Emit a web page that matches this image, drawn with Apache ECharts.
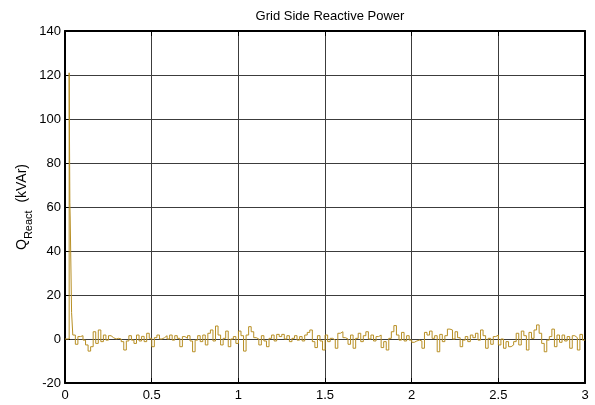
<!DOCTYPE html>
<html>
<head>
<meta charset="utf-8">
<script src="https://cdn.jsdelivr.net/npm/echarts@6/dist/echarts.min.js"></script>
<style>
  html, body { margin: 0; padding: 0; background: #fff; }
  #chart { width: 595px; height: 405px; }
</style>
</head>
<body>
<div id="chart"></div>
<script>
// Axis ticks
const xTicks = [0, 0.5, 1, 1.5, 2, 2.5, 3];
const yTicks = [-20, 0, 20, 40, 60, 80, 100, 120, 140];

// Start-up transient (time in s, reactive power in kVAr)
const startupTime  = [0, 0.024, 0.026, 0.028, 0.030, 0.038];
const startupValue = [0, 121, 90, 62, 55, 12];

// Steady-state samples, held between sample instants (kVAr)
const noiseStart = 0.045;
const noiseEnd = 3.0;
const steady0 = [1.8,-2.4,1.1,1.5,-0.5,-2.7,-5.5,-3.5,3.3,-2.0,4.1,-1.2,1.8,-0.5,1.5,0.6,0,0.3,0,-1.2,-5.0,-0.9,1.5,-0.5,-2.0,1.8,-0.9,1.2,-1.2,2.6,0.3,-3.5,0.6,1.8,0];
const steady1 = [0.6,1.5,0,1.8,-0.5,1.5,0.3,-3.5,1.1,0.3,1.5,-0.9,-5.8,-0.5,1.5,-1.2,1.8,-2.7,2.6,4.1,-0.9,5.9,1.8,-2.7,0.3,3.6,-3.5,0,1.1,-2.0,3.6,1.5,-5.5,1.8];
const steady2 = [5.6,3.3,0.6,0,-2.7,1.5,-0.9,-3.5,0.3,1.8,-0.9,2.1,1.1,2.1,0,1.5,-1.2,0.3,1.5,-0.5,1.1,-0.9,1.8,3.0,4.1,-1.2,-3.9,1.5,-0.9,-5.0,1.8,-1.2,0.3,-0.5];
const steady3 = [-4.2,2.6,3.3,0.6,0,-2.4,1.8,-4.2,0.3,2.6,-1.2,1.5,3.3,0,1.8,-0.9,1.1,1.8,-3.9,-1.2,-5.0,0.3,3.3,6.1,1.8,-0.5,3.0,-0.9,1.5,-0.5,-1.5,-0.9,-0.5];
const steady4 = [-0.9,-4.2,3.0,1.8,3.6,0.3,1.5,-5.8,2.1,-1.2,1.5,4.5,4.1,0,3.3,0.6,-3.5,-0.5,1.1,-1.2,1.8,0.6,2.6,-0.5,4.1,1.5,-4.2,0.3,-2.4,1.1,1.8,-2.7,0];
const steady5 = [-4.2,-1.2,-3.5,-2.7,-1.2,2.6,-2.7,3.6,1.5,-5.0,3.0,0.3,4.1,6.4,2.6,-2.0,-5.8,-0.5,1.1,4.5,-3.5,1.8,-1.5,1.8,-0.9,1.1,-4.2,1.5,0.6,-5.0,2.1,-0.5];

const steady = [].concat(steady0, steady1, steady2, steady3, steady4, steady5);

const points = [];
for (let i = 0; i < startupTime.length; i++) points.push([startupTime[i], startupValue[i]]);
const dt = (noiseEnd - noiseStart) / steady.length;
for (let i = 0; i < steady.length; i++) points.push([noiseStart + i * dt, steady[i]]);
points.push([noiseEnd, steady[steady.length - 1]]);

const FONT = '"Liberation Sans", Arial, sans-serif';
const gridLine = { show: true, lineStyle: { color: '#3c3c3c', width: 1 } };
const boxLine = { show: true, onZero: false, lineStyle: { color: '#000', width: 2 } };

const chart = echarts.init(document.getElementById('chart'), null, { renderer: 'canvas' });
chart.setOption({
  animation: false,
  backgroundColor: '#fff',
  title: {
    text: 'Grid Side Reactive Power',
    left: 325, top: 5, textAlign: 'center',
    textStyle: { fontFamily: FONT, fontSize: 13, fontWeight: 'normal', color: '#000' }
  },
  grid: { left: 65, top: 31, right: 10, bottom: 22, containLabel: false },
  xAxis: [{
    type: 'value', position: 'bottom',
    min: xTicks[0], max: xTicks[xTicks.length - 1], interval: xTicks[1] - xTicks[0],
    axisLine: boxLine,
    axisTick: { show: true, inside: true, length: 5, lineStyle: { color: '#000' } },
    axisLabel: { margin: 6, fontFamily: FONT, fontSize: 13, color: '#000' },
    splitLine: gridLine
  }, {
    type: 'value', position: 'top',
    min: xTicks[0], max: xTicks[xTicks.length - 1], interval: xTicks[1] - xTicks[0],
    axisLine: boxLine,
    axisTick: { show: true, inside: true, length: 5, lineStyle: { color: '#000' } },
    axisLabel: { show: false }, splitLine: { show: false }
  }],
  yAxis: [{
    type: 'value', position: 'left',
    min: yTicks[0], max: yTicks[yTicks.length - 1], interval: yTicks[1] - yTicks[0],
    axisLine: boxLine,
    axisTick: { show: true, inside: true, length: 5, lineStyle: { color: '#000' } },
    axisLabel: { margin: 4, fontFamily: FONT, fontSize: 13, color: '#000' },
    splitLine: gridLine
  }, {
    type: 'value', position: 'right',
    min: yTicks[0], max: yTicks[yTicks.length - 1], interval: yTicks[1] - yTicks[0],
    axisLine: boxLine,
    axisTick: { show: true, inside: true, length: 5, lineStyle: { color: '#000' } },
    axisLabel: { show: false }, splitLine: { show: false }
  }],
  graphic: [{
    type: 'text',
    x: 22, y: 207,
    rotation: Math.PI / 2,
    style: {
      text: '{q|Q}{s|React}{q|  (kVAr)}',
      align: 'center', verticalAlign: 'middle',
      fill: '#000',
      rich: {
        q: { fontFamily: FONT, fontSize: 14, lineHeight: 24, verticalAlign: 'middle', fill: '#000' },
        s: { fontFamily: FONT, fontSize: 11, lineHeight: 24, verticalAlign: 'bottom', fill: '#000' }
      }
    }
  }],
  series: [{
    type: 'line',
    xAxisIndex: 0, yAxisIndex: 0,
    data: points,
    step: 'end',
    showSymbol: false,
    lineStyle: { color: '#b88f24', width: 1 },
    z: 3
  }]
});
</script>
</body>
</html>
